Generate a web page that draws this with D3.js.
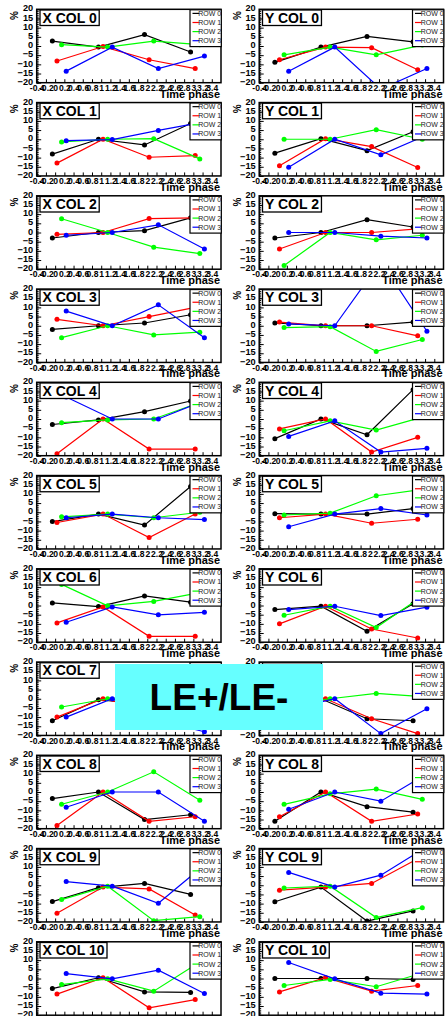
<!DOCTYPE html>
<html>
<head>
<meta charset="utf-8">
<script src="https://cdn.jsdelivr.net/npm/d3@7"></script>
<style>
  body { margin: 0; background: #fff; }
  svg { display: block; }
  text { font-family: "Liberation Sans", Arial, sans-serif; }
</style>
</head>
<body>
<div id="root"></div>
<script>
// one line per ROW, four time phases per line
const rowNames = ["ROW 0", "ROW 1", "ROW 2", "ROW 3"];
const rowColors = ["#000000", "#ff0000", "#00ff00", "#0000ff"];
const phases = [0, 1, 2, 3];
const phaseShift = [-0.06, 0.04, 0.14, 0.24];

const yTicks = [-20, -15, -10, -5, 0, 5, 10, 15, 20];
const xTicks = d3.range(-4, 35, 2).map(v => v / 10);
const xTickLabels = xTicks.map(v => String(Math.round(v * 10) / 10));

// X COL 0..10 : [ROW 0, ROW 1, ROW 2, ROW 3]
const xCol = [
  [[2.7, -0.6, 6.2, -3.3], [-8.2, -0.3, -7.5, -12.3], [0.7, -0.6, 2.7, 0.7], [-13.7, -0.6, -12.3, -5.5]],
  [[-8.1, 0, -3.1, 8.6], [-13, 0, -9.8, -8.9], [-1.5, 0, 0.3, -10.7], [-0.8, -0.2, 4.8, 9.5]],
  [[-3, 0, 1, 8], [-1, 0, 7.6, 8], [7.5, 0, -8, -11.5], [-1.5, 0, 4.2, -9]],
  [[-2, 0, 1.5, 6], [3.5, 0, 5, 10], [-6.5, 0, -5, -3.5], [8, 0, 11.4, -6.5]],
  [[-3, -0.5, 4, 9.8], [-18.9, 0, -16.4, -16.4], [-2, -0.5, 0, 9], [12, 0, 0, 10]],
  [[-5.1, -1, -7, 14], [-5.6, -1, -13.8, -1], [-2.5, -1, -3, 0], [-3, -1, -3, -4]],
  [[1.4, -0.6, 5.2, 1.8], [-9.5, -0.8, -16.8, -16.8], [11.5, -0.2, 2.2, 7], [-9.1, -0.8, -5.1, -3.7]],
  [[-12, -0.5, -3, 2], [-10, 0, -6, -8], [-4.5, 0, 2, 4], [-10, 0, -12, -18]],
  [[-3.6, 0, -15, -12.4], [-18.3, 0, -16, -13.5], [-6.7, 0, 11, -4.5], [-8.3, 0, 0, -16]],
  [[-8.9, -1.3, 1, -5], [-15.3, -1, -2, -16.2], [-7.8, -0.5, -19.3, -17.1], [2, -0.5, -9.8, 11]],
  [[-5.5, 0.4, -7.3, -7.6], [-8.5, 0.4, -16, -11.5], [-3.3, -0.2, -6.9, 9], [2.7, -0.2, 4.5, -8.2]]
];

// Y COL 0..10 : [ROW 0, ROW 1, ROW 2, ROW 3]
const yCol = [
  [[-8.9, -0.6, 5.2, 2.3], [-7.5, -0.6, -0.9, -12.9], [-4.8, -0.6, -4.8, 0.5], [-13.8, -0.6, -23.5, -12.3]],
  [[-7.6, 0.3, -6.2, 4.1], [-14.5, 0.3, -4, -15.4], [0, 0, 5.2, 0], [-15.2, 0, -8.5, 2.3]],
  [[-3, 0, 7, 3], [-9, 0, 0, 2], [-18, 0, -4, -1.5], [0, 0, -2, -3]],
  [[1.5, 0, 0, 2], [2, 0, 0, -5.5], [-1, -0.5, -14, -7.5], [1, 0, 35, -3]],
  [[-10.7, 0, -8.6, 16], [-5.4, 0, -18, -10], [-6.4, -1, -6, 1], [-9.5, -1, -18, -16]],
  [[-0.8, -1, -1, 2], [-3, -1, -6, -3.8], [-1.5, -0.5, 9, 12.5], [-7.9, -1, 2, -1.5]],
  [[-2.2, -0.4, -14, 0.9], [-10, -0.4, -12.8, -17.7], [-5.3, -0.4, -12, 5], [-2.2, -0.4, -5.5, -0.9]],
  [[-2, 0, -10.9, -12], [-4, 0, -10.9, -19], [-3, 0, 2.9, 1.2], [-6, 0, -19, -5.4]],
  [[-16, 0, -8, -11], [-13.5, 0, -16, -12], [-6.7, -1, 1.6, -4], [-9.4, 0, -5, 10]],
  [[-9, -1, -19.5, -14], [-2.7, -1, 1, 14.4], [-1.5, -0.5, -17.6, -12.2], [7, -1, 5.5, 21]],
  [[0, 0, 0, -0.5], [-7.3, 0.5, -6.9, -3.8], [-3.8, -0.5, -4.5, 3], [8.7, -0.2, -8, -8.5]]
];

const outerWidth = 445;
const outerHeight = 1016;
const padW = 222.5;
const padH = 93.25;
const frame = { left: 36.7, right: 221, top: 9.3, bottom: 82.7 };

let scaleX = d3.scaleLinear().domain([-0.4, 3.6]).range([frame.left, frame.right]);
let scaleY = d3.scaleLinear().domain([-20, 20]).range([frame.bottom, frame.top]);

let svg = d3.select("#root")
            .append("svg")
            .attr("width", outerWidth)
            .attr("height", outerHeight);

svg.append("rect")
    .attr("width", outerWidth)
    .attr("height", outerHeight)
    .attr("fill", "#fff");

svg.append("defs").append("clipPath")
    .attr("id", "frameClip")
  .append("rect")
    .attr("x", frame.left)
    .attr("y", frame.top)
    .attr("width", frame.right - frame.left)
    .attr("height", frame.bottom - frame.top);

function drawPanel(px, py, title, rows) {
    let g = svg.append("g").attr("transform", `translate(${px}, ${py})`);

    // minor + major ticks, drawn inward like ROOT
    g.append("g")
        .attr("transform", `translate(${frame.left}, 0)`)
        .call(d3.axisLeft(scaleY).tickValues(d3.range(-20, 21, 1)).tickSize(-2).tickFormat(""))
        .call(a => a.select(".domain").remove());

    let yAxis = g.append("g")
        .attr("transform", `translate(${frame.left}, 0)`)
        .call(d3.axisLeft(scaleY).tickValues(yTicks).tickSize(-4.5).tickPadding(3.5));
    yAxis.select(".domain").remove();
    yAxis.selectAll("text")
        .attr("dy", "0.18em")
        .style("font-size", "9.2px")
        .style("font-weight", "bold")
        .attr("fill", "#000");

    let xAxis = g.append("g")
        .attr("transform", `translate(0, ${frame.bottom})`)
        .call(d3.axisBottom(scaleX).tickValues(xTicks).tickSize(-3.5).tickPadding(2.2)
                .tickFormat((d, i) => xTickLabels[i]));
    xAxis.select(".domain").remove();
    xAxis.selectAll("text")
        .style("font-size", "8.6px")
        .style("font-weight", "bold")
        .attr("fill", "#000");

    let plot = g.append("g").attr("clip-path", "url(#frameClip)");
    let line = d3.line()
        .x(d => scaleX(d[0]))
        .y(d => scaleY(d[1]));

    rows.forEach((vals, k) => {
        let pts = vals.map((v, i) => [phases[i] + phaseShift[k], v]);
        plot.append("path")
            .attr("d", line(pts))
            .attr("fill", "none")
            .attr("stroke", rowColors[k])
            .attr("stroke-width", 1.2);
        plot.selectAll(null)
            .data(pts)
            .enter().append("circle")
              .attr("cx", d => scaleX(d[0]))
              .attr("cy", d => scaleY(d[1]))
              .attr("r", 2.5)
              .attr("fill", rowColors[k]);
    });

    g.append("rect")
        .attr("x", frame.left)
        .attr("y", frame.top)
        .attr("width", frame.right - frame.left)
        .attr("height", frame.bottom - frame.top)
        .attr("fill", "none")
        .attr("stroke", "#000")
        .attr("stroke-width", 1.5);

    // title box
    let box = g.append("rect")
        .attr("x", 40)
        .attr("y", 10)
        .attr("height", 15.5)
        .attr("fill", "#fff")
        .attr("stroke", "#000")
        .attr("stroke-width", 1.3);
    let t = g.append("text")
        .attr("x", 42.5)
        .attr("y", 22.6)
        .style("font-size", "14px")
        .style("font-weight", "bold")
        .text(title);
    box.attr("width", t.node().getComputedTextLength() + 5);

    // legend
    let lg = g.append("g").attr("transform", "translate(190, 9.8)");
    lg.append("rect")
        .attr("width", 31.3)
        .attr("height", 36.8)
        .attr("fill", "#fff")
        .attr("stroke", "#000")
        .attr("stroke-width", 1.2);
    rowNames.forEach((name, k) => {
        let ly = 3.6 + k * 9.1;
        lg.append("line")
            .attr("x1", 2.5).attr("x2", 9)
            .attr("y1", ly).attr("y2", ly)
            .attr("stroke", rowColors[k])
            .attr("stroke-width", 1.2);
        lg.append("text")
            .attr("x", 8.3)
            .attr("y", ly + 2.5)
            .style("font-size", "7px")
            .attr("fill", "#222")
            .text(name);
    });

    // axis titles
    g.append("text")
        .attr("transform", "translate(18, 11) rotate(-90)")
        .style("text-anchor", "end")
        .style("font-size", "10px")
        .style("font-weight", "bold")
        .text("%");

    g.append("text")
        .attr("x", 220)
        .attr("y", 97.5)
        .style("text-anchor", "end")
        .style("font-size", "11px")
        .style("font-weight", "bold")
        .text("Time phase");
}

xCol.forEach((rows, r) => {
    drawPanel(0, r * padH, `X COL ${r}`, rows);
    drawPanel(padW, r * padH, `Y COL ${r}`, yCol[r]);
});

// overlay label
svg.append("rect")
    .attr("x", 115)
    .attr("y", 664)
    .attr("width", 208)
    .attr("height", 66)
    .attr("fill", "#66ffff");

svg.append("text")
    .attr("x", 219)
    .attr("y", 697)
    .attr("dy", "0.36em")
    .style("text-anchor", "middle")
    .style("font-size", "37px")
    .style("font-weight", "bold")
    .text("LE+/LE-");
</script>
</body>
</html>
